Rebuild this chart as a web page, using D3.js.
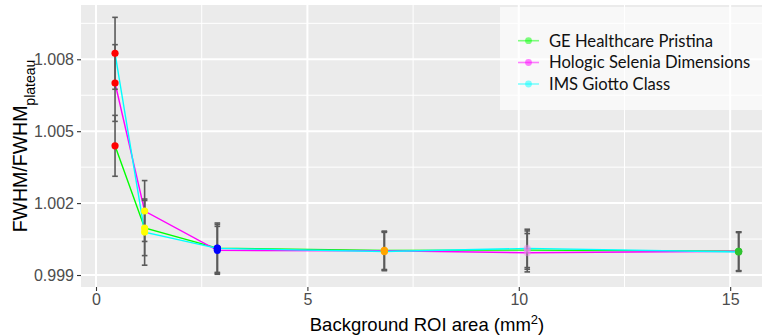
<!DOCTYPE html>
<html>
<head>
<meta charset="utf-8">
<script src="https://cdn.jsdelivr.net/npm/d3@7"></script>
<style>
  html, body { margin: 0; padding: 0; background: #ffffff; }
  svg { display: block; }
</style>
</head>
<body>
<svg id="chart" width="762" height="335"></svg>
<script>
// Background ROI areas (mm^2)
const roiArea = [0.45, 1.15, 2.87, 6.82, 10.2, 15.2];

// FWHM / FWHM_plateau per system
const geValues      = [1.00439, 1.00096, 1.00012, 1.00003, 1.00004, 0.99999];
const hologicValues = [1.00701, 1.00167, 1.00003, 1.00001, 0.99993, 0.99999];
const imsValues     = [1.00825, 1.00079, 1.00011, 0.99998, 1.00011, 0.99996];

// Error bar half-widths
const geErrors      = [0.00127, 0.00115, 0.00105, 0.0008, 0.0008, 0.00081];
const hologicErrors = [0.00160, 0.00127, 0.00100, 0.0008, 0.0008, 0.00081];
const imsErrors     = [0.00150, 0.00138, 0.00100, 0.0008, 0.0008, 0.00081];

const seriesNames = ["GE Healthcare Pristina", "Hologic Selenia Dimensions", "IMS Giotto Class"];
const seriesColors = ["#00ff00", "#ff00ff", "#00ffff"];

// Point fill per ROI area
const pointColors = ["#ff0000", "#ffff00", "#0000ff", "#ffa500", "#ee82ee", "#2fc32f"];
const pointOpacity = [1, 1, 1, 1, 0.45, 1];

const xTicks = [0, 5, 10, 15];
const yTicks = [0.999, 1.002, 1.005, 1.008];

const series = [
  { name: seriesNames[0], color: seriesColors[0], values: geValues, errors: geErrors },
  { name: seriesNames[1], color: seriesColors[1], values: hologicValues, errors: hologicErrors },
  { name: seriesNames[2], color: seriesColors[2], values: imsValues, errors: imsErrors }
];

const panel = { left: 81, right: 775, top: 5, bottom: 287 };

const x = d3.scaleLinear().domain([-0.355, 16.06]).range([panel.left, panel.right]);
const y = d3.scaleLinear().domain([0.9985, 1.010265]).range([panel.bottom, panel.top]);

const svg = d3.select("#chart");

svg.append("defs").append("clipPath").attr("id", "panelClip")
  .append("rect")
  .attr("x", panel.left).attr("y", panel.top)
  .attr("width", panel.right - panel.left).attr("height", panel.bottom - panel.top);

const plot = svg.append("g").attr("clip-path", "url(#panelClip)");

// panel background
plot.append("rect")
  .attr("x", panel.left).attr("y", panel.top)
  .attr("width", panel.right - panel.left).attr("height", panel.bottom - panel.top)
  .attr("fill", "#ebebeb");

// minor grid
const xMinor = [2.5, 7.5, 12.5];
const yMinor = [1.0005, 1.0035, 1.0065, 1.0095];
plot.selectAll(".xminor").data(xMinor).join("line")
  .attr("x1", d => x(d)).attr("x2", d => x(d))
  .attr("y1", panel.top).attr("y2", panel.bottom)
  .attr("stroke", "#ffffff").attr("stroke-width", 1);
plot.selectAll(".yminor").data(yMinor).join("line")
  .attr("y1", d => y(d)).attr("y2", d => y(d))
  .attr("x1", panel.left).attr("x2", panel.right)
  .attr("stroke", "#ffffff").attr("stroke-width", 1);

// major grid
plot.selectAll(".xmajor").data(xTicks).join("line")
  .attr("x1", d => x(d)).attr("x2", d => x(d))
  .attr("y1", panel.top).attr("y2", panel.bottom)
  .attr("stroke", "#ffffff").attr("stroke-width", 2);
plot.selectAll(".ymajor").data(yTicks).join("line")
  .attr("y1", d => y(d)).attr("y2", d => y(d))
  .attr("x1", panel.left).attr("x2", panel.right)
  .attr("stroke", "#ffffff").attr("stroke-width", 2);

// series lines
const line = d3.line().x((d, i) => x(roiArea[i])).y(d => y(d));
series.forEach(s => {
  plot.append("path")
    .datum(s.values)
    .attr("d", line)
    .attr("fill", "none")
    .attr("stroke", s.color)
    .attr("stroke-width", 1.4);
});

// error bars
const capHalf = 2.8;
series.forEach(s => {
  const g = plot.append("g").attr("stroke", "#5a5a5a").attr("stroke-width", 1.6);
  s.values.forEach((v, i) => {
    const cx = x(roiArea[i]);
    const y0 = y(v - s.errors[i]), y1 = y(v + s.errors[i]);
    g.append("line").attr("x1", cx).attr("x2", cx).attr("y1", y0).attr("y2", y1);
    g.append("line").attr("x1", cx - capHalf).attr("x2", cx + capHalf).attr("y1", y0).attr("y2", y0);
    g.append("line").attr("x1", cx - capHalf).attr("x2", cx + capHalf).attr("y1", y1).attr("y2", y1);
  });
});

// points
series.forEach(s => {
  plot.selectAll(null).data(s.values).join("circle")
    .attr("cx", (d, i) => x(roiArea[i]))
    .attr("cy", d => y(d))
    .attr("r", 3.6)
    .attr("fill", (d, i) => pointColors[i])
    .attr("fill-opacity", (d, i) => pointOpacity[i]);
});

// legend
const legend = plot.append("g");
legend.append("rect")
  .attr("x", 500).attr("y", 7).attr("width", 280).attr("height", 103)
  .attr("fill", "#ffffff").attr("fill-opacity", 0.65);
const legendRows = [40.7, 62.5, 84];
series.forEach((s, i) => {
  const ly = legendRows[i];
  legend.append("line")
    .attr("x1", 518).attr("x2", 539).attr("y1", ly).attr("y2", ly)
    .attr("stroke", s.color).attr("stroke-opacity", 0.5).attr("stroke-width", 1.6);
  legend.append("circle")
    .attr("cx", 528.5).attr("cy", ly).attr("r", 3.4)
    .attr("fill", s.color).attr("fill-opacity", 0.5);
  legend.append("text")
    .attr("x", 549).attr("y", ly + 5.8)
    .attr("font-family", "Lato, 'Open Sans', sans-serif")
    .attr("font-size", 16.6)
    .attr("fill", "#111111")
    .text(s.name);
});

// axes
const tickFont = "'Liberation Sans Narrow', 'Arial Narrow', 'Liberation Sans', sans-serif";
const xAxis = svg.append("g")
  .attr("transform", `translate(0,${panel.bottom})`)
  .call(d3.axisBottom(x).tickValues(xTicks).tickFormat(d3.format("d")).tickSize(4).tickPadding(3));
const yAxis = svg.append("g")
  .attr("transform", `translate(${panel.left},0)`)
  .call(d3.axisLeft(y).tickValues(yTicks).tickFormat(d3.format(".3f")).tickSize(4).tickPadding(3));

[xAxis, yAxis].forEach(a => {
  a.select(".domain").remove();
  a.selectAll(".tick line").attr("stroke", "#333333").attr("stroke-width", 1.1);
  a.selectAll(".tick text")
    .attr("font-family", tickFont)
    .attr("font-size", 16)
    .attr("fill", "#4d4d4d");
});

// axis titles
svg.append("text")
  .attr("x", 427).attr("y", 331)
  .attr("text-anchor", "middle")
  .attr("font-family", "'Liberation Sans', Arial, sans-serif")
  .attr("font-size", 18.5)
  .attr("fill", "#000000")
  .call(t => {
    t.append("tspan").text("Background ROI area (mm");
    t.append("tspan").attr("baseline-shift", "super").attr("font-size", 13).text("2");
    t.append("tspan").text(")");
  });

svg.append("text")
  .attr("transform", `translate(27,${(panel.top + panel.bottom) / 2}) rotate(-90)`)
  .attr("text-anchor", "middle")
  .attr("font-family", "'Liberation Sans', Arial, sans-serif")
  .attr("font-size", 19.5)
  .attr("fill", "#000000")
  .call(t => {
    t.append("tspan").text("FWHM/FWHM");
    t.append("tspan").attr("baseline-shift", "sub").attr("font-size", 14).text("plateau");
  });
</script>
</body>
</html>
